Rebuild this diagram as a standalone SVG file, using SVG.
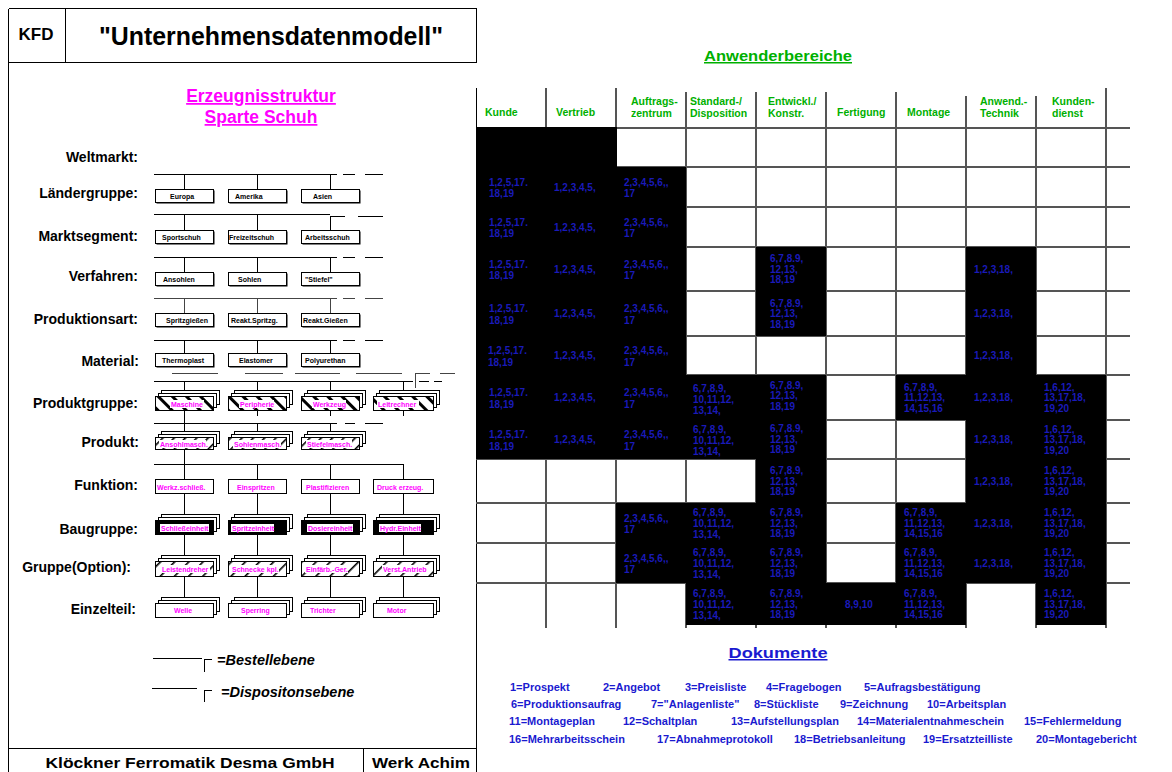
<svg xmlns="http://www.w3.org/2000/svg" width="1172" height="772" viewBox="0 0 1172 772">
<defs>
<style>
text{font-family:"Liberation Sans",Arial,sans-serif;font-weight:bold}
.lbl{font-size:14px;text-anchor:end;fill:#000}
.bt{font-size:7px;fill:#000}
.mt{font-size:7px;fill:#ff00ff}
.cell{font-size:10px;fill:#1a1ab8}
.hd{font-size:10.5px;fill:#00b000}
.doc{font-size:11px;fill:#1a1ad0}
.ln{stroke:#000;stroke-width:1;fill:none}
.gl{stroke:#555;stroke-width:1.5;fill:none}
.bx{fill:#fff;stroke:#000;stroke-width:1}
.sh{fill:#000}
.wb{fill:#fff}
.blk{fill:#000}
.hb{fill:url(#hatchB);stroke:#000;stroke-width:1}
.hf{fill:url(#hatchF);stroke:#000;stroke-width:1}
.hg{fill:url(#hatchG);stroke:#000;stroke-width:1}
.bb{fill:#000;stroke:#000;stroke-width:1}
</style>
<pattern id="hatchB" width="10" height="10" patternUnits="userSpaceOnUse" patternTransform="rotate(-45)"><rect width="10" height="10" fill="#fff"/><rect width="3" height="10" fill="#000"/></pattern>
<pattern id="hatchF" width="8" height="8" patternUnits="userSpaceOnUse" patternTransform="rotate(45)"><rect width="8" height="8" fill="#fff"/><rect width="1.6" height="8" fill="#000"/></pattern>
<pattern id="hatchG" width="10" height="10" patternUnits="userSpaceOnUse" patternTransform="rotate(45)"><rect width="10" height="10" fill="#fff"/><rect width="1.6" height="10" fill="#000"/></pattern>
</defs>
<rect width="1172" height="772" fill="#fff"/>

<g id="frame" class="ln" shape-rendering="crispEdges">
<path d="M8.5,8.5 H476.5 M8.5,8.5 V772 M476.5,8.5 V62 M476.5,88 V772 M8.5,62.5 H476.5 M65.5,8.5 V62.5 M8.5,748.5 H476.5 M363.5,748.5 V772"/>
</g>
<g id="header-title">
<text x="36" y="40" font-size="17" text-anchor="middle">KFD</text>
<text x="271" y="45" font-size="26" text-anchor="middle" textLength="344" lengthAdjust="spacingAndGlyphs">"Unternehmensdatenmodell"</text>
</g>
<g id="subtitle">
<text x="261" y="102" font-size="17.5" text-anchor="middle" fill="#ff00ff" text-decoration="underline">Erzeugnisstruktur</text>
<text x="261" y="123" font-size="17.5" text-anchor="middle" fill="#ff00ff" text-decoration="underline">Sparte Schuh</text>
</g>
<g id="footer">
<text x="190" y="768" font-size="14" text-anchor="middle" textLength="289" lengthAdjust="spacingAndGlyphs">Klöckner Ferromatik Desma GmbH</text>
<text x="421" y="768" font-size="14" text-anchor="middle" textLength="98" lengthAdjust="spacingAndGlyphs">Werk Achim</text>
</g>

<g id="level-labels">
<text class="lbl" x="138" y="162">Weltmarkt:</text>
<text class="lbl" x="138" y="198">Ländergruppe:</text>
<text class="lbl" x="138" y="241">Marktsegment:</text>
<text class="lbl" x="138" y="281">Verfahren:</text>
<text class="lbl" x="138" y="324">Produktionsart:</text>
<text class="lbl" x="139" y="366">Material:</text>
<text class="lbl" x="138" y="408">Produktgruppe:</text>
<text class="lbl" x="139" y="447">Produkt:</text>
<text class="lbl" x="138" y="490">Funktion:</text>
<text class="lbl" x="138" y="534">Baugruppe:</text>
<text class="lbl" x="131" y="572">Gruppe(Option):</text>
<text class="lbl" x="136" y="614">Einzelteil:</text>
</g>

<g id="connectors" class="ln" shape-rendering="crispEdges">
<path d="M154,174.5 H337 M343,174.5 H355 M365,174.5 H383 M184.5,174 V189 M257.5,174 V189 M330.5,174 V189"/>
<path d="M154,214.5 H330 M330.5,216 V230 M330,216.5 H345 M358,216.5 H383 M184.5,214 V230 M257.5,214 V230"/>
<path d="M154,257.5 H337 M343,257.5 H355 M365,257.5 H383 M184.5,257 V272 M257.5,257 V272 M330.5,257 V272"/>
<path d="M154,298.5 H337 M343,298.5 H355 M365,298.5 H383 M184.5,298 V313 M257.5,298 V313 M330.5,298 V313" stroke="#444" stroke-width="1.5"/>
<path d="M154,340.5 H337 M343,340.5 H355 M365,340.5 H383 M184.5,340 V353 M257.5,340 V353 M330.5,340 V353"/>
<path d="M172,373.5 H218 M245,373.5 H283 M295,373.5 H340 M356,373.5 H402 M415.5,388 V373.5 H430 M440,373.5 H455" stroke="#444"/>
<path d="M154,381.5 H413 M419,381.5 H429 M434,381.5 H442 M184.5,381 V390 M257.5,381 V390 M330.5,381 V390 M403.5,381 V390"/>
<path d="M257.5,410 V416 M330.5,410 V416 M403.5,410 V416 M184.5,410 V431"/>
<path d="M154,423.5 H337 M345,423.5 H355 M365,423.5 H383 M257.5,423 V431 M330.5,423 V431"/>
<path d="M184.5,449 V479 M154,464.5 H403.5 M257.5,464 V479 M330.5,464 V479 M403.5,464 V479"/>
<path d="M184.5,493 V514 M257.5,493 V514 M330.5,493 V514 M403.5,493 V514"/>
<path d="M184.5,534 V555 M257.5,534 V555 M330.5,534 V555 M403.5,534 V555"/>
<path d="M184.5,576 V597 M257.5,576 V597 M330.5,576 V597 M403.5,576 V597"/>
</g>

<!-- Ländergruppe -->
<g id="n-europa"><rect class="sh" x="156.5" y="190.5" width="58" height="13"/><rect class="bx" x="155.5" y="189.5" width="58" height="13"/><text class="bt" x="170" y="199">Europa</text></g>
<g id="n-amerika"><rect class="sh" x="229.5" y="190.5" width="58" height="13"/><rect class="bx" x="228.5" y="189.5" width="58" height="13"/><text class="bt" x="235" y="199">Amerika</text></g>
<g id="n-asien"><rect class="sh" x="302.5" y="190.5" width="58" height="13"/><rect class="bx" x="301.5" y="189.5" width="58" height="13"/><text class="bt" x="313" y="199">Asien</text></g>
<!-- Marktsegment -->
<g id="n-sportschuh"><rect class="sh" x="156.5" y="231.5" width="58" height="13"/><rect class="bx" x="155.5" y="230.5" width="58" height="13"/><text class="bt" x="162" y="240">Sportschuh</text></g>
<g id="n-freizeitschuh"><rect class="sh" x="229.5" y="231.5" width="58" height="13"/><rect class="bx" x="228.5" y="230.5" width="58" height="13"/><text class="bt" x="229" y="240">Freizeitschuh</text></g>
<g id="n-arbeitsschuh"><rect class="sh" x="302.5" y="231.5" width="58" height="13"/><rect class="bx" x="301.5" y="230.5" width="58" height="13"/><text class="bt" x="305" y="240">Arbeitsschuh</text></g>
<!-- Verfahren -->
<g id="n-ansohlen"><rect class="sh" x="156.5" y="273.5" width="58" height="13"/><rect class="bx" x="155.5" y="272.5" width="58" height="13"/><text class="bt" x="163" y="282">Ansohlen</text></g>
<g id="n-sohlen"><rect class="sh" x="229.5" y="273.5" width="58" height="13"/><rect class="bx" x="228.5" y="272.5" width="58" height="13"/><text class="bt" x="238" y="282">Sohlen</text></g>
<g id="n-stiefel"><rect class="sh" x="302.5" y="273.5" width="58" height="13"/><rect class="bx" x="301.5" y="272.5" width="58" height="13"/><text class="bt" x="305" y="282">"Stiefel"</text></g>
<!-- Produktionsart -->
<g id="n-spritzgiessen"><rect class="sh" x="156.5" y="314.5" width="58" height="13"/><rect class="bx" x="155.5" y="313.5" width="58" height="13"/><text class="bt" x="166" y="323">Spritzgießen</text></g>
<g id="n-reakt-spritzg"><rect class="sh" x="229.5" y="314.5" width="58" height="13"/><rect class="bx" x="228.5" y="313.5" width="58" height="13"/><text class="bt" x="231" y="323">Reakt.Spritzg.</text></g>
<g id="n-reakt-giessen"><rect class="sh" x="302.5" y="314.5" width="58" height="13"/><rect class="bx" x="301.5" y="313.5" width="58" height="13"/><text class="bt" x="303" y="323">Reakt.Gießen</text></g>
<!-- Material -->
<g id="n-thermoplast"><rect class="sh" x="156.5" y="354.5" width="58" height="13"/><rect class="bx" x="155.5" y="353.5" width="58" height="13"/><text class="bt" x="162" y="363">Thermoplast</text></g>
<g id="n-elastomer"><rect class="sh" x="229.5" y="354.5" width="58" height="13"/><rect class="bx" x="228.5" y="353.5" width="58" height="13"/><text class="bt" x="239" y="363">Elastomer</text></g>
<g id="n-polyurethan"><rect class="sh" x="302.5" y="354.5" width="58" height="13"/><rect class="bx" x="301.5" y="353.5" width="58" height="13"/><text class="bt" x="305" y="363">Polyurethan</text></g>

<!-- Produktgruppe -->
<g id="n-maschine"><rect class="bx" x="161.5" y="390.5" width="58" height="14"/><rect class="bx" x="158.5" y="393.5" width="58" height="14"/><rect class="hb" x="155.5" y="396.5" width="58" height="14"/><rect class="wb" x="170" y="400" width="34" height="8"/><text class="mt" x="171" y="406.5">Maschine</text></g>
<g id="n-peripherie"><rect class="bx" x="234.5" y="390.5" width="58" height="14"/><rect class="bx" x="231.5" y="393.5" width="58" height="14"/><rect class="hb" x="228.5" y="396.5" width="58" height="14"/><rect class="wb" x="239" y="400" width="35" height="8"/><text class="mt" x="240" y="406.5">Peripherie</text></g>
<g id="n-werkzeug"><rect class="bx" x="307.5" y="390.5" width="58" height="14"/><rect class="bx" x="304.5" y="393.5" width="58" height="14"/><rect class="hb" x="301.5" y="396.5" width="58" height="14"/><rect class="wb" x="312" y="400" width="34" height="8"/><text class="mt" x="313" y="406.5">Werkzeug</text></g>
<g id="n-leitrechner"><rect class="bx" x="379.5" y="390.5" width="60" height="14"/><rect class="bx" x="376.5" y="393.5" width="60" height="14"/><rect class="hb" x="373.5" y="396.5" width="60" height="14"/><rect class="wb" x="377" y="400" width="42" height="8"/><text class="mt" x="378" y="406.5">Leitrechner</text></g>
<!-- Produkt -->
<g id="n-ansohlmasch"><rect class="bx" x="161.5" y="431.5" width="58" height="12"/><rect class="bx" x="158.5" y="434.5" width="58" height="12"/><rect class="hf" x="155.5" y="437.5" width="58" height="12"/><rect class="wb" x="159" y="440" width="47" height="8"/><text class="mt" x="160" y="446.5">Ansohlmasch.</text></g>
<g id="n-sohlenmasch"><rect class="bx" x="234.5" y="431.5" width="58" height="12"/><rect class="bx" x="231.5" y="434.5" width="58" height="12"/><rect class="hf" x="228.5" y="437.5" width="58" height="12"/><rect class="wb" x="233" y="440" width="48" height="8"/><text class="mt" x="234" y="446.5">Sohlenmasch.</text></g>
<g id="n-stiefelmasch"><rect class="bx" x="307.5" y="431.5" width="58" height="12"/><rect class="bx" x="304.5" y="434.5" width="58" height="12"/><rect class="hf" x="301.5" y="437.5" width="58" height="12"/><rect class="wb" x="306" y="440" width="46" height="8"/><text class="mt" x="307" y="446.5">Stiefelmasch.</text></g>
<!-- Funktion -->
<g id="n-werkz-schliess"><rect class="bx" x="155.5" y="479.5" width="58" height="14"/><text class="mt" x="157" y="489.5">Werkz.schließ.</text></g>
<g id="n-einspritzen"><rect class="bx" x="228.5" y="479.5" width="58" height="14"/><text class="mt" x="237" y="489.5">Einspritzen</text></g>
<g id="n-plastifizieren"><rect class="bx" x="301.5" y="479.5" width="58" height="14"/><text class="mt" x="306" y="489.5">Plastifizieren</text></g>
<g id="n-druck-erzeug"><rect class="bx" x="373.5" y="479.5" width="60" height="14"/><text class="mt" x="377" y="489.5">Druck erzeug.</text></g>
<!-- Baugruppe -->
<g id="n-schliesseinheit"><rect class="bx" x="161.5" y="514.5" width="58" height="14"/><rect class="bx" x="158.5" y="517.5" width="58" height="14"/><rect class="bb" x="155.5" y="520.5" width="58" height="14"/><rect class="wb" x="160" y="524" width="49" height="8"/><text class="mt" x="161" y="530.5">Schließeinheit</text></g>
<g id="n-spritzeinheit"><rect class="bx" x="234.5" y="514.5" width="58" height="14"/><rect class="bx" x="231.5" y="517.5" width="58" height="14"/><rect class="bb" x="228.5" y="520.5" width="58" height="14"/><rect class="wb" x="231" y="524" width="43" height="8"/><text class="mt" x="232" y="530.5">Spritzeinheit</text></g>
<g id="n-dosiereinheit"><rect class="bx" x="307.5" y="514.5" width="58" height="14"/><rect class="bx" x="304.5" y="517.5" width="58" height="14"/><rect class="bb" x="301.5" y="520.5" width="58" height="14"/><rect class="wb" x="307" y="524" width="46" height="8"/><text class="mt" x="308" y="530.5">Dosiereinheit</text></g>
<g id="n-hydr-einheit"><rect class="bx" x="379.5" y="514.5" width="60" height="14"/><rect class="bx" x="376.5" y="517.5" width="60" height="14"/><rect class="bb" x="373.5" y="520.5" width="60" height="14"/><rect class="wb" x="379" y="524" width="42" height="8"/><text class="mt" x="380" y="530.5">Hydr.Einheit</text></g>
<!-- Gruppe(Option) -->
<g id="n-leistendreher"><rect class="bx" x="161.5" y="555.5" width="58" height="15"/><rect class="bx" x="158.5" y="558.5" width="58" height="15"/><rect class="hg" x="155.5" y="561.5" width="58" height="15"/><rect class="wb" x="161" y="565" width="49" height="8"/><text class="mt" x="162" y="571.5">Leistendreher</text></g>
<g id="n-schnecke"><rect class="bx" x="234.5" y="555.5" width="58" height="15"/><rect class="bx" x="231.5" y="558.5" width="58" height="15"/><rect class="hg" x="228.5" y="561.5" width="58" height="15"/><rect class="wb" x="231" y="565" width="48" height="8"/><text class="mt" x="232" y="571.5">Schnecke kpl.</text></g>
<g id="n-einfaerb"><rect class="bx" x="307.5" y="555.5" width="58" height="15"/><rect class="bx" x="304.5" y="558.5" width="58" height="15"/><rect class="hg" x="301.5" y="561.5" width="58" height="15"/><rect class="wb" x="305" y="565" width="43" height="8"/><text class="mt" x="306" y="571.5">Einfärb.-Ger.</text></g>
<g id="n-verst-antrieb"><rect class="bx" x="379.5" y="555.5" width="60" height="15"/><rect class="bx" x="376.5" y="558.5" width="60" height="15"/><rect class="hg" x="373.5" y="561.5" width="60" height="15"/><rect class="wb" x="382" y="565" width="48" height="8"/><text class="mt" x="383" y="571.5">Verst.Antrieb</text></g>
<!-- Einzelteil -->
<g id="n-welle"><rect class="bx" x="161.5" y="597.5" width="58" height="14"/><rect class="bx" x="158.5" y="600.5" width="58" height="14"/><rect class="bx" x="155.5" y="603.5" width="58" height="14"/><text class="mt" x="174" y="613">Welle</text></g>
<g id="n-sperring"><rect class="bx" x="234.5" y="597.5" width="58" height="14"/><rect class="bx" x="231.5" y="600.5" width="58" height="14"/><rect class="bx" x="228.5" y="603.5" width="58" height="14"/><text class="mt" x="241" y="613">Sperring</text></g>
<g id="n-trichter"><rect class="bx" x="307.5" y="597.5" width="58" height="14"/><rect class="bx" x="304.5" y="600.5" width="58" height="14"/><rect class="bx" x="301.5" y="603.5" width="58" height="14"/><text class="mt" x="310" y="613">Trichter</text></g>
<g id="n-motor"><rect class="bx" x="379.5" y="597.5" width="60" height="14"/><rect class="bx" x="376.5" y="600.5" width="60" height="14"/><rect class="bx" x="373.5" y="603.5" width="60" height="14"/><text class="mt" x="387" y="613">Motor</text></g>

<g id="legend">
<path class="ln" shape-rendering="crispEdges" d="M153,658.5 H202 M204.5,672 V659.5 H212 M152,688.5 H197 M204.5,702 V690.5 H212"/>
<text x="217" y="665" font-size="14.5" font-style="italic">=Bestellebene</text>
<text x="221" y="697" font-size="14.5" font-style="italic">=Dispositonsebene</text>
</g>

<!-- Right side: table -->
<g id="title-anwender">
<text x="778" y="61" font-size="15" fill="#00b000" text-anchor="middle" text-decoration="underline" textLength="148" lengthAdjust="spacingAndGlyphs">Anwenderbereiche</text>
</g>
<g id="table-header">
<path class="gl" shape-rendering="crispEdges" d="M546,88 V128 M616,88 V128 M686,92 V128 M756,92 V128 M826,92 V128 M896,92 V128 M966,96 V128 M1036,96 V128 M1106,88 V128"/>
<text class="hd" x="485" y="116">Kunde</text>
<text class="hd" x="556" y="116">Vertrieb</text>
<text class="hd" x="631" y="105">Auftrags-</text><text class="hd" x="631" y="117">zentrum</text>
<text class="hd" x="690" y="105">Standard-/</text><text class="hd" x="690" y="117">Disposition</text>
<text class="hd" x="768" y="105">Entwickl./</text><text class="hd" x="768" y="117">Konstr.</text>
<text class="hd" x="837" y="116">Fertigung</text>
<text class="hd" x="907" y="116">Montage</text>
<text class="hd" x="980" y="105">Anwend.-</text><text class="hd" x="980" y="117">Technik</text>
<text class="hd" x="1052" y="105">Kunden-</text><text class="hd" x="1052" y="117">dienst</text>
</g>
<g id="table-grid" class="gl" shape-rendering="crispEdges">
<path d="M476,128 H1130 M476,167 H1130 M476,207 H1130 M476,247 H1130 M476,291 H1130 M476,336 H1130 M476,375 H1130 M476,420 H1130 M476,459 H1130 M476,503 H1130 M476,543 H1130 M476,583 H1130"/>
<path d="M546,128 V628 M616,128 V628 M686,128 V628 M756,128 V628 M826,128 V628 M896,128 V628 M966,128 V628 M1036,128 V628 M1106,128 V628"/>
</g>
<g id="table-cells">
<rect class="blk" x="476" y="127" width="141" height="332"/>
<rect class="blk" x="616" y="167" width="70" height="292"/>
<rect class="blk" x="616" y="503" width="70" height="80"/>
<rect class="blk" x="686" y="375" width="70" height="84"/>
<rect class="blk" x="686" y="503" width="70" height="122"/>
<rect class="blk" x="756" y="247" width="70" height="89"/>
<rect class="blk" x="756" y="375" width="70" height="250"/>
<rect class="blk" x="826" y="583" width="70" height="42"/>
<rect class="blk" x="896" y="375" width="70" height="45"/>
<rect class="blk" x="896" y="503" width="70" height="122"/>
<rect class="blk" x="966" y="247" width="70" height="336"/>
<rect class="blk" x="1036" y="375" width="70" height="250"/>
</g>
<g id="cell-texts" class="cell">
<text x="489" y="185.5">1,2,5,17.<tspan x="489" y="197">18,19</tspan></text>
<text x="489" y="225.5">1,2,5,17.<tspan x="489" y="237">18,19</tspan></text>
<text x="489" y="267.5">1,2,5,17.<tspan x="489" y="279">18,19</tspan></text>
<text x="489" y="312">1,2,5,17.<tspan x="489" y="323.5">18,19</tspan></text>
<text x="488" y="354">1,2,5,17.<tspan x="488" y="365.5">18,19</tspan></text>
<text x="489" y="396">1,2,5,17.<tspan x="489" y="407.5">18,19</tspan></text>
<text x="489" y="438">1,2,5,17.<tspan x="489" y="449.5">18,19</tspan></text>
<text x="554" y="190.5">1,2,3,4,5,</text>
<text x="554" y="230.5">1,2,3,4,5,</text>
<text x="554" y="272.5">1,2,3,4,5,</text>
<text x="554" y="317">1,2,3,4,5,</text>
<text x="554" y="359">1,2,3,4,5,</text>
<text x="554" y="401">1,2,3,4,5,</text>
<text x="554" y="443">1,2,3,4,5,</text>
<text x="624" y="185.5">2,3,4,5,6,,<tspan x="624" y="197">17</tspan></text>
<text x="624" y="225.5">2,3,4,5,6,,<tspan x="624" y="237">17</tspan></text>
<text x="624" y="267.5">2,3,4,5,6,,<tspan x="624" y="279">17</tspan></text>
<text x="624" y="312">2,3,4,5,6,,<tspan x="624" y="323.5">17</tspan></text>
<text x="624" y="354">2,3,4,5,6,,<tspan x="624" y="365.5">17</tspan></text>
<text x="624" y="396">2,3,4,5,6,,<tspan x="624" y="407.5">17</tspan></text>
<text x="624" y="438">2,3,4,5,6,,<tspan x="624" y="449.5">17</tspan></text>
<text x="624" y="521.5">2,3,4,5,6,,<tspan x="624" y="533">17</tspan></text>
<text x="624" y="561.5">2,3,4,5,6,,<tspan x="624" y="573">17</tspan></text>
<text x="693" y="392">6,7,8,9,<tspan x="693" y="403">10,11,12,</tspan><tspan x="693" y="414">13,14,</tspan></text>
<text x="693" y="432.5">6,7,8,9,<tspan x="693" y="443.5">10,11,12,</tspan><tspan x="693" y="454.5">13,14,</tspan></text>
<text x="693" y="516">6,7,8,9,<tspan x="693" y="527">10,11,12,</tspan><tspan x="693" y="538">13,14,</tspan></text>
<text x="693" y="556">6,7,8,9,<tspan x="693" y="567">10,11,12,</tspan><tspan x="693" y="578">13,14,</tspan></text>
<text x="693" y="597">6,7,8,9,<tspan x="693" y="608">10,11,12,</tspan><tspan x="693" y="619">13,14,</tspan></text>
<text x="770" y="262">6,7,8.9,<tspan x="770" y="272.5">12,13,</tspan><tspan x="770" y="283">18,19</tspan></text>
<text x="770" y="306.5">6,7,8.9,<tspan x="770" y="317">12,13,</tspan><tspan x="770" y="327.5">18,19</tspan></text>
<text x="770" y="388.5">6,7,8.9,<tspan x="770" y="399">12,13,</tspan><tspan x="770" y="409.5">18,19</tspan></text>
<text x="770" y="432">6,7,8.9,<tspan x="770" y="442.5">12,13,</tspan><tspan x="770" y="453">18,19</tspan></text>
<text x="770" y="474">6,7,8.9,<tspan x="770" y="484.5">12,13,</tspan><tspan x="770" y="495">18,19</tspan></text>
<text x="770" y="516">6,7,8.9,<tspan x="770" y="526.5">12,13,</tspan><tspan x="770" y="537">18,19</tspan></text>
<text x="770" y="556">6,7,8.9,<tspan x="770" y="566.5">12,13,</tspan><tspan x="770" y="577">18,19</tspan></text>
<text x="770" y="597">6,7,8.9,<tspan x="770" y="607.5">12,13,</tspan><tspan x="770" y="618">18,19</tspan></text>
<text x="845" y="607.5">8,9,10</text>
<text x="904" y="390.5">6,7,8,9,<tspan x="904" y="401">11,12,13,</tspan><tspan x="904" y="411.5">14,15,16</tspan></text>
<text x="904" y="516">6,7,8,9,<tspan x="904" y="526.5">11,12,13,</tspan><tspan x="904" y="537">14,15,16</tspan></text>
<text x="904" y="556">6,7,8,9,<tspan x="904" y="566.5">11,12,13,</tspan><tspan x="904" y="577">14,15,16</tspan></text>
<text x="904" y="597">6,7,8,9,<tspan x="904" y="607.5">11,12,13,</tspan><tspan x="904" y="618">14,15,16</tspan></text>
<text x="974" y="272.5">1,2,3,18,</text>
<text x="974" y="317">1,2,3,18,</text>
<text x="974" y="359">1,2,3,18,</text>
<text x="974" y="401">1,2,3,18,</text>
<text x="974" y="443">1,2,3,18,</text>
<text x="974" y="484.5">1,2,3,18,</text>
<text x="974" y="526.5">1,2,3,18,</text>
<text x="974" y="566.5">1,2,3,18,</text>
<text x="1044" y="390.5">1,6,12,<tspan x="1044" y="401">13,17,18,</tspan><tspan x="1044" y="411.5">19,20</tspan></text>
<text x="1044" y="432.5">1,6,12,<tspan x="1044" y="443">13,17,18,</tspan><tspan x="1044" y="453.5">19,20</tspan></text>
<text x="1044" y="474">1,6,12,<tspan x="1044" y="484.5">13,17,18,</tspan><tspan x="1044" y="495">19,20</tspan></text>
<text x="1044" y="516">1,6,12,<tspan x="1044" y="526.5">13,17,18,</tspan><tspan x="1044" y="537">19,20</tspan></text>
<text x="1044" y="556">1,6,12,<tspan x="1044" y="566.5">13,17,18,</tspan><tspan x="1044" y="577">19,20</tspan></text>
<text x="1044" y="597">1,6,12,<tspan x="1044" y="607.5">13,17,18,</tspan><tspan x="1044" y="618">19,20</tspan></text>
</g>

<g id="dokumente">
<text x="778" y="658" font-size="15" fill="#1a1ad0" text-anchor="middle" text-decoration="underline" textLength="99" lengthAdjust="spacingAndGlyphs">Dokumente</text>
<text class="doc" x="510" y="691">1=Prospekt</text>
<text class="doc" x="603" y="691">2=Angebot</text>
<text class="doc" x="685" y="691">3=Preisliste</text>
<text class="doc" x="766" y="691">4=Fragebogen</text>
<text class="doc" x="864" y="691">5=Aufragsbestätigung</text>
<text class="doc" x="511" y="708">6=Produktionsaufrag</text>
<text class="doc" x="651" y="708">7="Anlagenliste"</text>
<text class="doc" x="754" y="708">8=Stückliste</text>
<text class="doc" x="840" y="708">9=Zeichnung</text>
<text class="doc" x="927" y="708">10=Arbeitsplan</text>
<text class="doc" x="509" y="725">11=Montageplan</text>
<text class="doc" x="623" y="725">12=Schaltplan</text>
<text class="doc" x="731" y="725">13=Aufstellungsplan</text>
<text class="doc" x="857" y="725">14=Materialentnahmeschein</text>
<text class="doc" x="1024" y="725">15=Fehlermeldung</text>
<text class="doc" x="509" y="743">16=Mehrarbeitsschein</text>
<text class="doc" x="657" y="743">17=Abnahmeprotokoll</text>
<text class="doc" x="794" y="743">18=Betriebsanleitung</text>
<text class="doc" x="923" y="743">19=Ersatzteilliste</text>
<text class="doc" x="1036" y="743">20=Montagebericht</text>
</g>
</svg>
